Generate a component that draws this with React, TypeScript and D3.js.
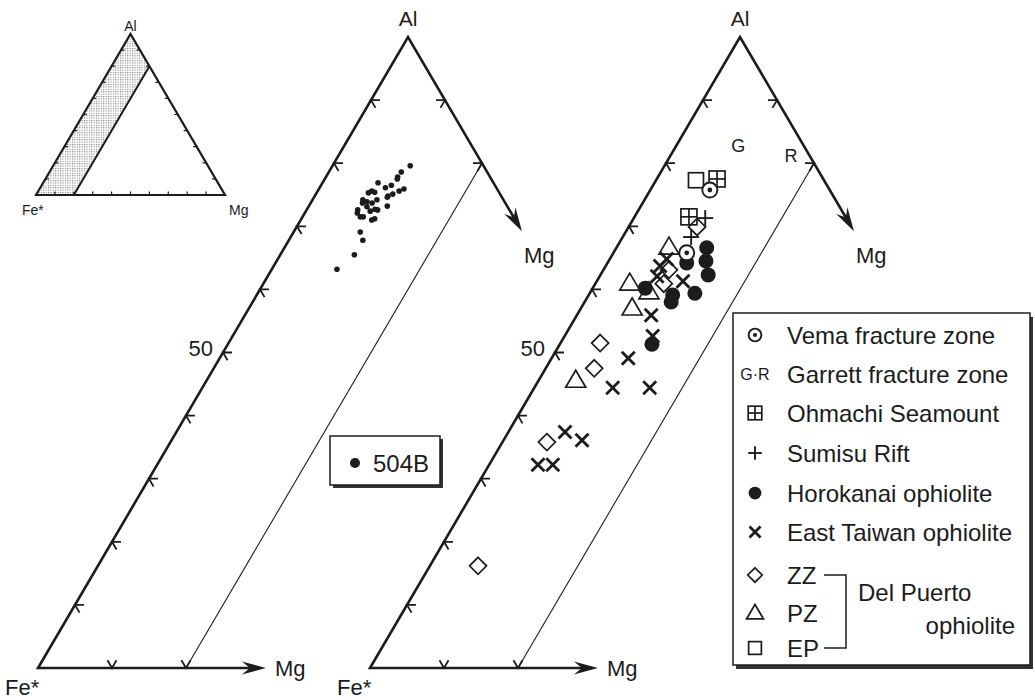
import React from 'react'
import * as d3 from 'd3'

const FONT = 'Liberation Sans, Arial, Helvetica, sans-serif'
const INK = '#1c1c1c'

// all points are [Al, Mg] in percent (Fe* is the rest)
const site504B: [number, number][] = [
  [79.6, 10.5], [78.6, 9.8], [77.8, 9.7], [77.5, 9.8], [75.9, 11.5], [75.6, 11.0],
  [75.1, 10.4], [74.8, 9.9], [76.5, 9.5], [76.1, 8.9], [76.9, 7.5], [75.6, 7.3],
  [75.4, 7.8], [75.3, 7.0], [74.2, 8.7], [74.6, 9.9], [73.2, 10.6], [74.2, 6.8],
  [73.9, 7.5], [73.7, 7.0], [73.7, 8.3], [72.7, 9.2], [72.6, 9.6], [73.1, 7.9],
  [72.6, 6.9], [72.1, 7.1], [71.5, 7.8], [71.5, 8.2], [72.4, 8.7], [71.0, 9.6],
  [71.2, 9.9], [69.1, 9.0], [67.8, 10.0], [65.5, 10.0], [63.2, 8.8],
]
const vema: [number, number][] = [[75.75, 8.05], [65.8, 9.9]]
const garrett = [
  { label: 'G', al: 82.9, mg: 8.3 },
  { label: 'R', al: 81.3, mg: 16.25 },
]
const ohmachi: [number, number][] = [[77.5, 8.15], [71.5, 7.35]]
const sumisu: [number, number][] = [[71.3, 9.65], [68.3, 9.25]]
const horokanai: [number, number][] = [
  [66.6, 12.2], [64.2, 10.7], [64.5, 13.15], [62.3, 14.55], [59.4, 14.2],
  [59.1, 11.35], [58.0, 11.7], [60.2, 7.1], [51.3, 12.45],
]
const eastTaiwan: [number, number][] = [
  [63.7, 7.35], [64.8, 7.7], [62.1, 7.75], [61.3, 11.65], [55.9, 10.05], [52.6, 11.9],
  [49.1, 10.35], [44.4, 10.6], [44.4, 15.6], [37.4, 7.65], [36.1, 10.6], [32.2, 6.6], [32.2, 8.6],
]
const zz: [number, number][] = [[69.9, 9.25], [63.1, 8.85], [60.9, 9.25], [51.5, 5.35], [47.5, 6.55], [35.8, 6.0], [16.2, 6.5]]
const pz: [number, number][] = [[66.7, 7.05], [61.0, 4.6], [59.6, 7.9], [57.05, 6.9], [45.6, 5.0]]
const ep: [number, number][] = [[77.3, 5.4]]

const LEFT_TICKS = [10, 20, 30, 40, 50, 60, 70, 80, 90] // Al on Fe*-Al edge
const RIGHT_TICKS = [90, 80] // Al on Al-Mg edge
const BOTTOM_TICKS = [10, 20] // Mg on Fe*-Mg edge
const INSET_TICKS = [10, 20, 30, 40, 50, 60, 70, 80, 90]
const BAND_MG = 20
const MG_END = 30.8

const legendItems = [
  { key: 'vema', label: 'Vema fracture zone' },
  { key: 'garrett', label: 'Garrett fracture zone' },
  { key: 'ohmachi', label: 'Ohmachi Seamount' },
  { key: 'sumisu', label: 'Sumisu Rift' },
  { key: 'horokanai', label: 'Horokanai ophiolite' },
  { key: 'eastTaiwan', label: 'East Taiwan ophiolite' },
  { key: 'zz', label: 'ZZ' },
  { key: 'pz', label: 'PZ' },
  { key: 'ep', label: 'EP' },
]
const legendRowY = [335, 374, 413, 453, 493, 532, 575, 613, 648]

type Proj = (al: number, mg: number) => [number, number]

function ternary(x0: number, y0: number, side: number, height: number): Proj {
  const x = d3.scaleLinear().domain([0, 100]).range([x0, x0 + side])
  const y = d3.scaleLinear().domain([0, 100]).range([y0, y0 - height])
  return (al, mg) => [x(mg + al / 2), y(al)]
}

function unit(a: [number, number], b: [number, number]): [number, number] {
  const dx = b[0] - a[0], dy = b[1] - a[1]
  const n = Math.hypot(dx, dy)
  return [dx / n, dy / n]
}

function arrowHead(tip: [number, number], u: [number, number], len = 24, half = 6.5, notch = 16) {
  const p = [-u[1], u[0]]
  const bx = tip[0] - u[0] * len, by = tip[1] - u[1] * len
  const nx = tip[0] - u[0] * notch, ny = tip[1] - u[1] * notch
  return `M${tip[0]},${tip[1]}L${bx + p[0] * half},${by + p[1] * half}L${nx},${ny}L${bx - p[0] * half},${by - p[1] * half}Z`
}

function Marker({ type, x, y, s = 1 }: { type: string; x: number; y: number; s?: number }) {
  const sw = 1.7
  if (type === 'vema') {
    return (
      <g>
        <circle cx={x} cy={y} r={7.5 * s} fill="#fff" stroke={INK} strokeWidth={1.9} />
        <circle cx={x} cy={y} r={2.4 * s} fill={INK} />
      </g>
    )
  }
  if (type === 'ohmachi') {
    const h = 8 * s
    return (
      <g fill="none" stroke={INK} strokeWidth={sw}>
        <rect x={x - h} y={y - h} width={2 * h} height={2 * h} />
        <line x1={x - h} x2={x + h} y1={y} y2={y} />
        <line x1={x} x2={x} y1={y - h} y2={y + h} />
      </g>
    )
  }
  if (type === 'ep') {
    const h = 7.5 * s
    return <rect x={x - h} y={y - h} width={2 * h} height={2 * h} fill="none" stroke={INK} strokeWidth={sw} />
  }
  if (type === 'sumisu') {
    const h = 8 * s
    return (
      <g stroke={INK} strokeWidth={1.9}>
        <line x1={x - h} x2={x + h} y1={y} y2={y} />
        <line x1={x} x2={x} y1={y - h} y2={y + h} />
      </g>
    )
  }
  if (type === 'horokanai') return <circle cx={x} cy={y} r={7.5 * s} fill={INK} />
  if (type === 'eastTaiwan') {
    const h = 6.5 * s
    return (
      <g stroke={INK} strokeWidth={2.8}>
        <line x1={x - h} x2={x + h} y1={y - h} y2={y + h} />
        <line x1={x - h} x2={x + h} y1={y + h} y2={y - h} />
      </g>
    )
  }
  if (type === 'zz') {
    const h = 8.5 * s
    return <path d={`M${x},${y - h}L${x + h},${y}L${x},${y + h}L${x - h},${y}Z`} fill="none" stroke={INK} strokeWidth={sw} />
  }
  if (type === 'pz') {
    const w = 10 * s
    return <path d={`M${x},${y - 10 * s}L${x + w},${y + 7 * s}L${x - w},${y + 7 * s}Z`} fill="none" stroke={INK} strokeWidth={sw} />
  }
  if (type === 'garrett') {
    return <text x={x} y={y + 6} textAnchor="middle" fontSize={16} fill={INK}>G·R</text>
  }
  return null
}

function Frame({ proj }: { proj: Proj }) {
  const fe = proj(0, 0)
  const al = proj(100, 0)
  const mg = proj(0, 100)
  const rTip = proj(100 - MG_END, MG_END)
  const bTip = proj(0, MG_END)
  const uR = unit(al, mg)
  const uB: [number, number] = [1, 0]
  const uL = unit(fe, al)
  const L = 9
  const ticks: string[] = []
  LEFT_TICKS.forEach(v => {
    const [x, y] = proj(v, 0)
    ticks.push(`M${x + L},${y}L${x},${y}L${x + uR[0] * L},${y + uR[1] * L}`)
  })
  RIGHT_TICKS.forEach(v => {
    const [x, y] = proj(v, 100 - v)
    ticks.push(`M${x - L},${y}L${x},${y}L${x - uL[0] * L},${y - uL[1] * L}`)
  })
  BOTTOM_TICKS.forEach(v => {
    const [x, y] = proj(0, v)
    ticks.push(`M${x - uR[0] * L},${y - uR[1] * L}L${x},${y}L${x + uL[0] * L},${y + uL[1] * L}`)
  })
  const b0 = proj(0, BAND_MG)
  const b1 = proj(100 - BAND_MG, BAND_MG)
  const p50 = proj(50, 0)
  return (
    <g>
      <line x1={b0[0]} y1={b0[1]} x2={b1[0]} y2={b1[1]} stroke={INK} strokeWidth={1.1} />
      <path
        d={`M${bTip[0] - 14},${bTip[1]}L${fe[0]},${fe[1]}L${al[0]},${al[1]}L${rTip[0] - uR[0] * 14},${rTip[1] - uR[1] * 14}`}
        fill="none" stroke={INK} strokeWidth={2.6} strokeLinejoin="miter"
      />
      <path d={ticks.join('')} fill="none" stroke={INK} strokeWidth={1.8} />
      <path d={arrowHead(rTip, uR)} fill={INK} />
      <path d={arrowHead(bTip, uB)} fill={INK} />
      <text x={al[0]} y={al[1] - 11} textAnchor="middle" fontSize={21} fill={INK}>Al</text>
      <text x={rTip[0] + 2} y={rTip[1] + 32} fontSize={22} fill={INK}>Mg</text>
      <text x={bTip[0] + 9} y={bTip[1] + 8} fontSize={22} fill={INK}>Mg</text>
      <text x={fe[0] - 33} y={fe[1] + 27} fontSize={22} fill={INK}>Fe*</text>
      <text x={p50[0] - 10} y={p50[1] + 3} textAnchor="end" fontSize={22} fill={INK}>50</text>
    </g>
  )
}

function Inset({ proj }: { proj: Proj }) {
  const fe = proj(0, 0)
  const al = proj(100, 0)
  const mg = proj(0, 100)
  const b0 = proj(0, BAND_MG)
  const b1 = proj(100 - BAND_MG, BAND_MG)
  const t = 3.5
  const ticks: string[] = []
  INSET_TICKS.forEach(v => {
    const l = proj(v, 0)
    ticks.push(`M${l[0]},${l[1]}h${t}`)
    const r = proj(v, 100 - v)
    ticks.push(`M${r[0]},${r[1]}h${-t}`)
    const b = proj(0, v)
    ticks.push(`M${b[0]},${b[1]}v${-t}`)
  })
  return (
    <g>
      <path d={`M${fe[0]},${fe[1]}L${b0[0]},${b0[1]}L${b1[0]},${b1[1]}L${al[0]},${al[1]}Z`} fill="url(#stipple)" />
      <line x1={b0[0]} y1={b0[1]} x2={b1[0]} y2={b1[1]} stroke={INK} strokeWidth={2} />
      <path d={`M${fe[0]},${fe[1]}L${al[0]},${al[1]}L${mg[0]},${mg[1]}Z`} fill="none" stroke={INK} strokeWidth={2.2} />
      <path d={ticks.join('')} stroke={INK} strokeWidth={1.2} />
      <text x={al[0]} y={al[1] - 3} textAnchor="middle" fontSize={14} fill={INK}>Al</text>
      <text x={fe[0] - 14} y={fe[1] + 20} fontSize={14} fill={INK}>Fe*</text>
      <text x={mg[0] + 4} y={mg[1] + 20} fontSize={14} fill={INK}>Mg</text>
    </g>
  )
}

export default function App() {
  const mid = ternary(38, 668, 740, 631)
  const right = ternary(370, 668, 740, 631)
  const inset = ternary(36, 195, 189, 161)

  const series: { type: string; data: [number, number][] }[] = [
    { type: 'ep', data: ep },
    { type: 'ohmachi', data: ohmachi },
    { type: 'sumisu', data: sumisu },
    { type: 'zz', data: zz },
    { type: 'pz', data: pz },
    { type: 'eastTaiwan', data: eastTaiwan },
    { type: 'horokanai', data: horokanai },
    { type: 'vema', data: vema },
  ]

  const lgX = 733, lgY = 313, lgW = 297, lgH = 352
  const symX = 755, textX = 787

  return (
    <svg width={1035} height={700} style={{ position: 'absolute', left: 0, top: 0, background: '#fff' }} fontFamily={FONT}>
      <defs>
        <pattern id="stipple" width={2.4} height={2.4} patternUnits="userSpaceOnUse">
          <rect width={1.1} height={1.1} fill="#7a7a7a" />
        </pattern>
      </defs>

      <Inset proj={inset} />

      {/* middle diagram: 504B */}
      <Frame proj={mid} />
      {site504B.map((d, i) => {
        const [x, y] = mid(d[0], d[1])
        return <circle key={i} cx={x} cy={y} r={2.8} fill={INK} />
      })}
      <rect x={333} y={439} width={110} height={49} fill="#333" />
      <rect x={330} y={436} width={110} height={49} fill="#fff" stroke={INK} strokeWidth={1.5} />
      <circle cx={355} cy={463} r={5} fill={INK} />
      <text x={373} y={472} fontSize={24} fill={INK}>504B</text>

      {/* right diagram: ophiolites and fracture zones */}
      <Frame proj={right} />
      {garrett.map(g => {
        const [x, y] = right(g.al, g.mg)
        return <text key={g.label} x={x} y={y + 7} textAnchor="middle" fontSize={18} fill={INK}>{g.label}</text>
      })}
      {series.map(s => s.data.map((d, i) => {
        const [x, y] = right(d[0], d[1])
        return <Marker key={s.type + i} type={s.type} x={x} y={y} />
      }))}

      {/* legend */}
      <rect x={lgX + 3} y={lgY + 4} width={lgW} height={lgH} fill="#333" />
      <rect x={lgX} y={lgY} width={lgW} height={lgH} fill="#fff" stroke={INK} strokeWidth={1.5} />
      {legendItems.map((it, i) => (
        <g key={it.key}>
          <Marker type={it.key} x={symX} y={legendRowY[i]} s={0.85} />
          <text x={textX} y={legendRowY[i] + 8.5} fontSize={24} fill={INK}>{it.label}</text>
        </g>
      ))}
      <path
        d={`M824,${legendRowY[6]}H846V${legendRowY[8]}H824`}
        fill="none" stroke={INK} strokeWidth={1.5}
      />
      <text x={858} y={601} fontSize={24} fill={INK}>Del Puerto</text>
      <text x={1015} y={634} textAnchor="end" fontSize={24} fill={INK}>ophiolite</text>
    </svg>
  )
}
